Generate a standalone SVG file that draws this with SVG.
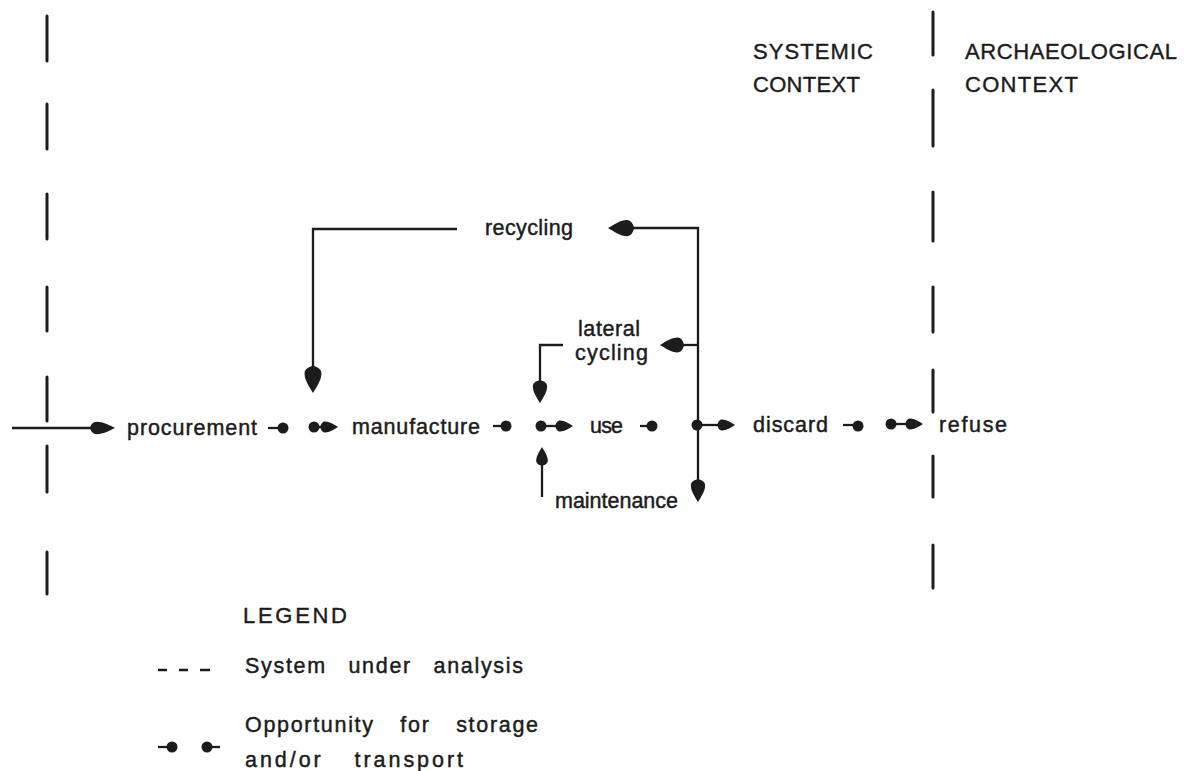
<svg xmlns="http://www.w3.org/2000/svg" xmlns:xlink="http://www.w3.org/1999/xlink" width="1191" height="771" viewBox="0 0 1191 771">
<style>
  .t { font-family: "Liberation Sans", Arial, sans-serif; font-size: 21.5px; fill: #1c1c1c; stroke: #1c1c1c; stroke-width: 0.45; }
  .cap { font-family: "Liberation Sans", Arial, sans-serif; font-size: 22px; fill: #1c1c1c; stroke: #1c1c1c; stroke-width: 0.4; }
  .ln { stroke: #1c1c1c; stroke-width: 2.3; fill: none; }
  .dash { stroke: #1c1c1c; stroke-width: 3; stroke-linecap: round; fill: none; }
  .dot { fill: #1c1c1c; }
  .ah { fill: #1c1c1c; }
</style>
<defs>
  <path id="ah" d="M0,0 C-5,-3 -10,-6.5 -15,-6.5 C-18.5,-6.5 -20,-3.5 -21,0 C-20,3.5 -18.5,6.5 -15,6.5 C-10,6.5 -5,3 0,0 Z"/>
</defs>
<rect width="1191" height="771" fill="#ffffff"/>

<g id="boundary-left">
  <path class="dash" d="M47,16 V61 M47,104 V149 M47,194 V239 M47,287 V331 M47,377 V421 M47,446 V492 M47,552 V594"/>
</g>
<g id="boundary-right">
  <path class="dash" d="M933,12 V55 M933,90 V146 M933,192 V241 M933,287 V332 M933,370 V412 M933,456 V497 M933,545 V588"/>
</g>

<g id="headers">
  <text class="cap" x="753" y="59" textLength="120" lengthAdjust="spacing">SYSTEMIC</text>
  <text class="cap" x="753" y="92" textLength="107" lengthAdjust="spacing">CONTEXT</text>
  <text class="cap" x="965" y="59" textLength="212" lengthAdjust="spacing">ARCHAEOLOGICAL</text>
  <text class="cap" x="965" y="92" textLength="113" lengthAdjust="spacing">CONTEXT</text>
</g>

<g id="node-procurement"><text class="t" x="127" y="435" textLength="130" lengthAdjust="spacing">procurement</text></g>
<g id="node-manufacture"><text class="t" x="352" y="434" textLength="128" lengthAdjust="spacing">manufacture</text></g>
<g id="node-use"><text class="t" x="590" y="433" textLength="33" lengthAdjust="spacing">use</text></g>
<g id="node-discard"><text class="t" x="753" y="432" textLength="75" lengthAdjust="spacing">discard</text></g>
<g id="node-refuse"><text class="t" x="939" y="432" textLength="68" lengthAdjust="spacing">refuse</text></g>
<g id="node-recycling"><text class="t" x="485" y="235" textLength="88" lengthAdjust="spacing">recycling</text></g>
<g id="node-lateral-cycling">
  <text class="t" x="578" y="336" textLength="62" lengthAdjust="spacing">lateral</text>
  <text class="t" x="575" y="360" textLength="73" lengthAdjust="spacing">cycling</text>
</g>
<g id="node-maintenance"><text class="t" x="555" y="508" textLength="123" lengthAdjust="spacing">maintenance</text></g>

<g id="connectors">
  <!-- incoming -->
  <path class="ln" d="M12,428 H97"/>
  <use href="#ah" class="ah" transform="translate(115,428) scale(1.2,0.95)"/>
  <!-- procurement -> manufacture -->
  <path class="ln" d="M268,428 H283"/>
  <circle class="dot" cx="283" cy="428" r="5.5"/>
  <circle class="dot" cx="314" cy="427" r="5.5"/>
  <path class="ln" d="M314,427 H326"/>
  <use href="#ah" class="ah" transform="translate(338,427) scale(0.85)"/>
  <!-- manufacture -> use -->
  <path class="ln" d="M493,426 H506"/>
  <circle class="dot" cx="506" cy="426" r="5.5"/>
  <circle class="dot" cx="541" cy="426" r="5.5"/>
  <path class="ln" d="M541,426 H560"/>
  <use href="#ah" class="ah" transform="translate(573,426) scale(0.85)"/>
  <!-- use -> junction -->
  <path class="ln" d="M640,426 H652"/>
  <circle class="dot" cx="652" cy="426" r="5.5"/>
  <circle class="dot" cx="697" cy="425" r="5.5"/>
  <path class="ln" d="M697,425 H720"/>
  <use href="#ah" class="ah" transform="translate(735,425) scale(0.85)"/>
  <!-- discard -> refuse -->
  <path class="ln" d="M843,425 H858"/>
  <circle class="dot" cx="858" cy="426" r="5.5"/>
  <circle class="dot" cx="891" cy="424" r="5.5"/>
  <path class="ln" d="M891,424 H908"/>
  <use href="#ah" class="ah" transform="translate(923,424) scale(0.85)"/>
  <!-- recycling back to manufacture -->
  <path class="ln" d="M457,229 H313 V372"/>
  <use href="#ah" class="ah" transform="translate(313,393) rotate(90) scale(1.3)"/>
  <!-- junction vertical trunk -->
  <path class="ln" d="M630,228 H698 V484"/>
  <use href="#ah" class="ah" transform="translate(608,228) rotate(180) scale(1.25)"/>
  <use href="#ah" class="ah" transform="translate(698,502) rotate(90) scale(1.1)"/>
  <!-- lateral cycling -->
  <path class="ln" d="M698,345 H680"/>
  <use href="#ah" class="ah" transform="translate(660,345) rotate(180) scale(1.15)"/>
  <path class="ln" d="M563,345 H540 V385"/>
  <use href="#ah" class="ah" transform="translate(540,403) rotate(90) scale(1.1)"/>
  <!-- maintenance -->
  <path class="ln" d="M542,497 V462"/>
  <use href="#ah" class="ah" transform="translate(542,447) rotate(-90) scale(0.9)"/>
</g>

<g id="legend">
  <text class="cap" x="243" y="623" textLength="104" lengthAdjust="spacing">LEGEND</text>
  <path class="ln" d="M158,670 H167 M179,670 H188 M200,670 H210"/>
  <text class="t" x="245" y="673" textLength="278" lengthAdjust="spacing" word-spacing="14">System under analysis</text>
  <path class="ln" d="M158,747 H172"/>
  <circle class="dot" cx="172" cy="747" r="5.5"/>
  <circle class="dot" cx="207" cy="747" r="5.5"/>
  <path class="ln" d="M207,747 H220"/>
  <text class="t" x="245" y="732" textLength="293" lengthAdjust="spacing" word-spacing="18">Opportunity for storage</text>
  <text class="t" x="245" y="767" textLength="218" lengthAdjust="spacing" word-spacing="22">and/or transport</text>
</g>
</svg>
